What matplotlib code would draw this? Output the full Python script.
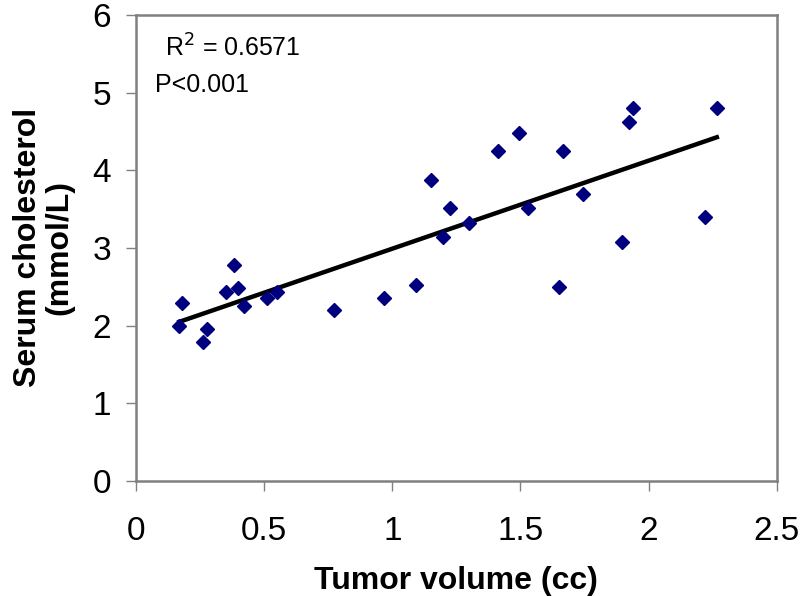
import numpy as np
import matplotlib.pyplot as plt

# tumor volume (cc) vs serum cholesterol (mmol/L)
volume = [0.169, 0.178, 0.260, 0.278, 0.350, 0.382, 0.399, 0.422, 0.510, 0.549,
          0.773, 0.968, 1.092, 1.150, 1.199, 1.225, 1.300, 1.412, 1.494, 1.528,
          1.650, 1.667, 1.742, 1.896, 1.923, 1.938, 2.218, 2.266]
cholesterol = [1.99, 2.29, 1.79, 1.95, 2.43, 2.78, 2.48, 2.25, 2.36, 2.43,
               2.20, 2.35, 2.52, 3.87, 3.14, 3.52, 3.32, 4.25, 4.48, 3.52,
               2.50, 4.25, 3.69, 3.08, 4.62, 4.80, 3.40, 4.80]

xticks = [0, 0.5, 1, 1.5, 2, 2.5]
xticklabels = ['0', '0.5', '1', '1.5', '2', '2.5']
yticks = [0, 1, 2, 3, 4, 5, 6]

plt.rcParams['font.family'] = ['Liberation Sans', 'DejaVu Sans']

fig = plt.figure(figsize=(8, 5.96), dpi=100)
ax = fig.add_axes([0.17, 0.193, 0.801, 0.782])

x = np.array(volume)
y = np.array(cholesterol)
slope, intercept = np.polyfit(x, y, 1)
xs = np.array([x.min(), x.max()])
ax.plot(xs, slope * xs + intercept, color='black', lw=3.2, zorder=2)

ax.plot(x, y, linestyle='none', marker='D', markersize=6.8,
        color='#00007f', zorder=3)

ax.set_xlim(0, 2.5)
ax.set_ylim(0, 6)
ax.set_xticks(xticks)
ax.set_xticklabels(xticklabels)
ax.set_yticks(yticks)
ax.tick_params(direction='out', length=7, width=1, color='#808080',
               labelsize=24)
ax.tick_params(axis='x', pad=18)
ax.tick_params(axis='y', pad=11)
for s in ax.spines.values():
    s.set_color('#808080')
    s.set_linewidth(1.8)

ax.set_xlabel('Tumor volume (cc)', fontsize=23, fontweight='bold', labelpad=14)
ax.set_ylabel('Serum cholesterol\n(mmol/L)', fontsize=23, fontweight='bold',
              labelpad=13, linespacing=1.05)

ax.text(0.045, 0.93, r'R$^2$ = 0.6571', transform=ax.transAxes,
        fontsize=18, va='center', ha='left')
ax.text(0.03, 0.85, 'P<0.001', transform=ax.transAxes,
        fontsize=18, va='center', ha='left')

fig.savefig('out.png', dpi=100)
